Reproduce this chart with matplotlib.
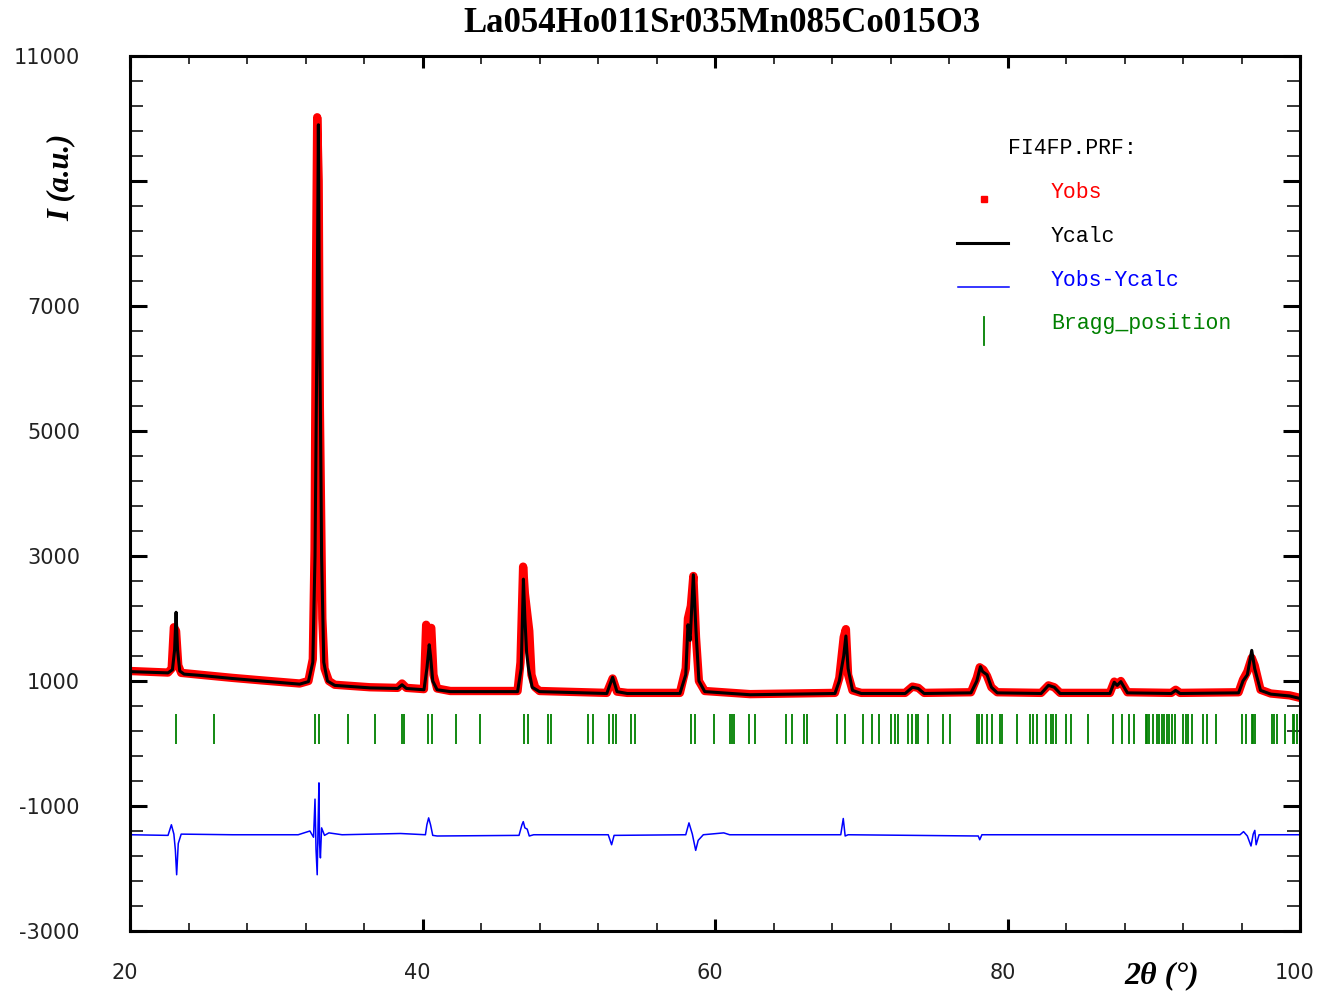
import numpy as np
import matplotlib
matplotlib.use("Agg")
import matplotlib.pyplot as plt
import matplotlib.transforms as mtransforms
from matplotlib.ticker import FixedLocator

plt.rcParams['axes.unicode_minus'] = False

# ==========================================
# Datos (Rietveld, FullProf)
# ==========================================
titulo = "La054Ho011Sr035Mn085Co015O3"

yobs_x = [20.0, 22.6, 22.85, 23.0, 23.15, 23.3, 23.5, 24.8, 27.0, 29.0, 31.6, 32.2, 32.5,
          32.62, 32.72, 32.8, 32.9, 32.98, 33.05, 33.15, 33.3, 33.6, 34.0, 36.4, 38.3, 38.6,
          38.9, 40.1, 40.25, 40.4, 40.6, 40.75, 41.0, 41.9, 46.5, 46.7, 46.88, 47.0, 47.3,
          47.45, 47.7, 48.0, 52.6, 53.0, 53.3, 54.0, 57.6, 58.0, 58.15, 58.35, 58.52, 58.7,
          58.9, 59.3, 62.4, 68.2, 68.5, 68.8, 68.95, 69.1, 69.4, 70.0, 73.0, 73.5, 73.9,
          74.3, 77.5, 77.9, 78.1, 78.35, 78.6, 78.9, 79.3, 82.3, 82.8, 83.2, 83.6, 87.0,
          87.3, 87.5, 87.75, 88.2, 91.2, 91.5, 91.8, 95.8, 96.1, 96.4, 96.7, 96.9, 97.3,
          98.0, 99.3, 100.0]
yobs_y = [1160, 1135, 1200, 1860, 1800, 1250, 1130, 1100, 1050, 1010, 960, 1000, 1350,
          3100, 7500, 10020, 9000, 5400, 4000, 2000, 1200, 1000, 940, 900, 890, 960,
          890, 870, 1900, 1800, 1850, 1100, 880, 840, 840, 1300, 2830, 2400, 1800,
          1100, 900, 840, 810, 1040, 830, 810, 810, 1200, 2000, 2200, 2680, 1700,
          1000, 840, 790, 810, 1050, 1700, 1830, 1100, 850, 810, 810, 910, 890,
          810, 820, 1050, 1220, 1180, 1080, 900, 820, 810, 930, 900, 810, 810,
          990, 940, 1000, 820, 810, 860, 810, 820, 1020, 1150, 1370, 1250, 860,
          800, 770, 730]

ycalc_x = [20.0, 22.6, 22.9, 23.05, 23.15, 23.25, 23.4, 23.7, 24.8, 27.0, 29.0, 31.6, 32.2,
           32.5, 32.65, 32.8, 32.88, 32.95, 33.02, 33.1, 33.25, 33.5, 34.0, 36.4, 38.3,
           38.6, 38.9, 40.1, 40.3, 40.46, 40.55, 40.7, 41.0, 41.9, 46.5, 46.75, 46.9, 47.0,
           47.12, 47.25, 47.5, 48.0, 52.6, 53.0, 53.3, 54.0, 57.6, 58.0, 58.15, 58.3, 58.52,
           58.7, 58.9, 59.3, 62.4, 68.2, 68.5, 68.8, 68.95, 69.1, 69.4, 70.0, 73.0, 73.5,
           73.9, 74.3, 77.5, 77.9, 78.15, 78.3, 78.6, 78.9, 79.3, 82.3, 82.8, 83.2, 83.6,
           87.0, 87.3, 87.5, 87.75, 88.2, 91.2, 91.5, 91.8, 95.8, 96.1, 96.4, 96.7, 96.9,
           97.3, 98.0, 99.3, 100.0]
ycalc_y = [1150, 1130, 1180, 1500, 2100, 1500, 1160, 1110, 1090, 1040, 1000, 950, 990,
           1300, 3000, 7000, 9900, 7000, 5300, 3000, 1300, 1000, 930, 890, 880,
           940, 880, 860, 1200, 1580, 1400, 1000, 860, 830, 830, 1200, 2630, 2000,
           1450, 1200, 900, 830, 800, 1060, 830, 800, 800, 1100, 1900, 1650, 2700,
           1800, 1000, 830, 780, 800, 1000, 1400, 1720, 1200, 850, 800, 800, 900,
           880, 800, 810, 1000, 1230, 1150, 1100, 900, 810, 800, 930, 900, 800,
           800, 980, 930, 990, 810, 800, 850, 800, 810, 1000, 1100, 1490, 1200,
           850, 790, 760, 720]

dif_x = [20.0, 22.6, 22.83, 23.0, 23.1, 23.19, 23.3, 23.5, 27.0, 31.5, 32.3, 32.55, 32.65,
         32.72, 32.8, 32.86, 32.92, 32.96, 33.02, 33.1, 33.3, 33.6, 34.5, 38.5, 40.2, 40.3,
         40.42, 40.55, 40.7, 41.0, 46.6, 46.8, 46.89, 47.0, 47.16, 47.3, 47.6, 52.7, 52.93,
         53.1, 58.0, 58.22, 58.45, 58.68, 58.85, 59.2, 60.6, 61.0, 68.6, 68.77, 68.9, 69.1,
         78.0, 78.1, 78.25, 95.9, 96.14, 96.4, 96.65, 96.8, 96.91, 97.0, 97.2, 100.0]
dif_y = [-1460, -1470, -1300, -1450, -1700, -2100, -1600, -1450, -1460, -1460, -1400, -1500, -890,
         -1700, -2100, -1300, -630, -1600, -1830, -1350, -1470, -1430, -1460, -1440, -1460, -1300,
         -1190, -1300, -1470, -1480, -1470, -1300, -1250, -1350, -1370, -1480, -1460, -1460, -1620,
         -1470, -1460, -1270, -1450, -1710, -1550, -1460, -1430, -1460, -1460, -1200, -1480, -1460,
         -1480, -1540, -1460, -1460, -1410, -1480, -1640, -1450, -1390, -1620, -1460, -1460]

bragg_pos = [23.15, 25.74, 32.67, 32.90, 34.93, 36.75, 38.63, 38.74, 40.36, 40.63, 42.29,
             43.91, 46.96, 47.19, 48.55, 48.79, 51.34, 51.66, 52.77, 53.04, 53.22, 54.25,
             54.51, 58.38, 58.65, 59.95, 61.03, 61.15, 61.28, 62.32, 62.76, 64.85, 65.24,
             66.08, 66.31, 68.32, 68.89, 70.14, 70.71, 71.23, 72.03, 72.31, 72.53, 73.22,
             73.45, 73.74, 73.90, 74.54, 75.56, 76.07, 77.93, 78.07, 78.24, 78.58, 78.96,
             79.49, 79.60, 80.63, 81.54, 81.76, 81.99, 82.63, 82.95, 83.13, 83.30, 83.98,
             84.32, 85.48, 87.24, 87.81, 88.31, 88.65, 89.47, 89.57, 89.68, 89.97, 90.20,
             90.38, 90.54, 90.72, 90.88, 91.06, 91.27, 91.45, 92.02, 92.18, 92.36, 92.59,
             93.39, 93.66, 94.26, 96.01, 96.29, 96.70, 96.82, 96.92, 98.06, 98.22, 98.41,
             98.97, 99.50, 99.61, 99.77]

y_mayores = [-3000, -1000, 1000, 3000, 5000, 7000, 9000, 11000]
y_etiquetas = ['-3000', '-1000', '1000', '3000', '5000', '7000', '', '11000']
x_mayores = [20, 40, 60, 80, 100]

ROJO = '#ff0000'
AZUL = '#0000ff'
VERDE = '#008000'

# ==========================================
# Figura
# ==========================================
fig = plt.figure(figsize=(13.17, 9.93), dpi=100)
ax = fig.add_axes([130 / 1317, 62 / 993, 1170 / 1317, 875 / 993])

ax.plot(yobs_x, yobs_y, color=ROJO, lw=6, solid_joinstyle='round', solid_capstyle='butt')
ax.plot(ycalc_x, ycalc_y, color='black', lw=2.2, solid_joinstyle='round')
ax.plot(dif_x, dif_y, color=AZUL, lw=1.1)
ax.vlines(bragg_pos, 0, 480, color=VERDE, lw=1.3)

ax.set_xlim(20, 100)
ax.set_ylim(-3000, 11000)

ax.set_xticks(x_mayores)
ax.xaxis.set_minor_locator(FixedLocator(np.arange(20, 101, 4)))
ax.set_yticks(y_mayores)
ax.set_yticklabels(y_etiquetas)
ax.yaxis.set_minor_locator(FixedLocator(np.arange(-3000, 11001, 400)))

ax.tick_params(which='both', direction='in', top=True, right=True, color='black')
ax.tick_params(axis='x', which='major', length=8.6, width=2.2, pad=23, labelsize=15)
ax.tick_params(axis='x', which='minor', length=6, width=1.1)
ax.tick_params(axis='y', which='major', length=12, width=2.2, pad=36, labelsize=15)
ax.tick_params(axis='y', which='minor', length=9.5, width=1.1)
for s in ax.spines.values():
    s.set_linewidth(2.2)

# etiquetas del eje x un poco a la izquierda, como en el original
desplaza = mtransforms.ScaledTranslation(-5 / 100, 0, fig.dpi_scale_trans)
for lab in ax.get_xticklabels():
    lab.set_transform(lab.get_transform() + desplaza)
for lab in ax.get_xticklabels() + ax.get_yticklabels():
    lab.set_color('#222222')

fig.text(722 / 1317, 1 - 23 / 993, titulo, ha='center', va='center',
         family='Liberation Serif', fontweight='bold', fontsize=25)
fig.text(61 / 1317, 1 - 177 / 993, 'I (a.u.)', ha='center', va='center', rotation=90,
         family='Liberation Serif', fontweight='bold', fontstyle='italic', fontsize=22)
fig.text(1162 / 1317, 1 - 976 / 993, '2θ (°)', ha='center', va='center',
         family='Liberation Serif', fontweight='bold', fontstyle='italic', fontsize=23)

# ==========================================
# Leyenda al estilo FullProf
# ==========================================
def px(xp, yp):
    return ((xp - 130) / 1170, (931 - yp) / 875)

mono = dict(family='Liberation Mono', fontsize=15.5, va='center', ha='left', transform=ax.transAxes)
ax.text(*px(1008, 148), 'FI4FP.PRF:', color='black', **mono)
ax.text(*px(1051, 192), 'Yobs', color=ROJO, **mono)
ax.text(*px(1051, 236), 'Ycalc', color='black', **mono)
ax.text(*px(1051, 280), 'Yobs-Ycalc', color=AZUL, **mono)
ax.text(*px(1051, 324), 'Bragg_position', color=VERDE, **mono)

ax.plot(*px(984, 199), marker='s', ms=4, color=ROJO, transform=ax.transAxes)
ax.plot(*zip(px(957, 243), px(1008, 243)), color='black', lw=2.2, transform=ax.transAxes)
ax.plot(*zip(px(958, 287), px(1009, 287)), color=AZUL, lw=1.1, transform=ax.transAxes)
ax.plot(*zip(px(984, 317), px(984, 345)), color=VERDE, lw=1.3, transform=ax.transAxes)

fig.savefig('out.png', dpi=100)
